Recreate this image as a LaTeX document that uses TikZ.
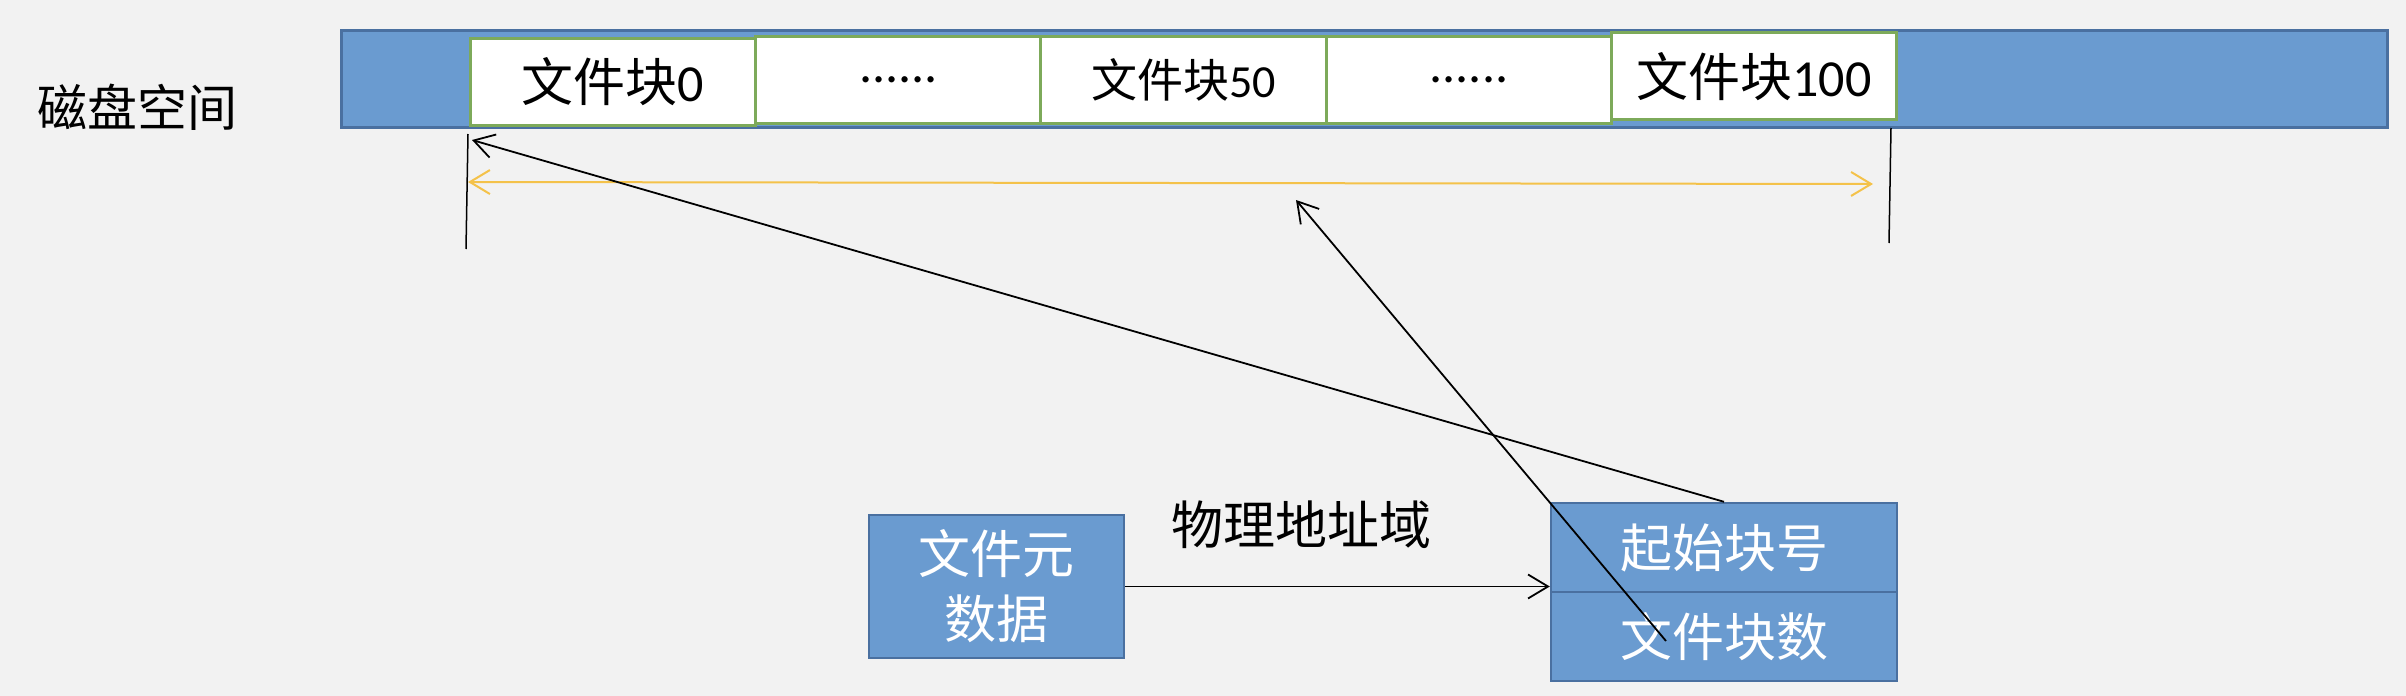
\documentclass[tikz,border=0pt]{standalone}
\usepackage{fontspec}
\setmainfont{Carlito}
\newfontfamily\cjk{Noto Sans CJK SC}
\usetikzlibrary{arrows.meta}
\definecolor{bg}{HTML}{F2F2F2}
\definecolor{barfill}{HTML}{6A9BD0}
\definecolor{barline}{HTML}{4A70A0}
\definecolor{grn}{HTML}{7DAA5A}
\definecolor{org}{HTML}{F4C24A}
\tikzset{
  bigtxt/.style={font=\fontsize{26pt}{32.5pt}\selectfont},
  diskbar/.style={draw=barline, fill=barfill, line width=1.5pt, minimum width=1023pt, minimum height=48.5pt, inner sep=0pt},
  blk/.style={draw=grn, fill=white, line width=1.5pt, minimum width=142.75pt, minimum height=43.5pt, inner sep=0pt, bigtxt},
  bluebox/.style={draw=barline, fill=barfill, line width=1.2pt, text=white, inner sep=0pt, align=center, bigtxt},
  barb/.style={Straight Barb[length=10pt,width=12pt]},
  arr/.style={-{Straight Barb[length=10pt,width=12pt]}, line width=0.9pt},
  tick/.style={line width=0.75pt},
}
\begin{document}
\begin{tikzpicture}[x=0.5pt,y=-0.5pt]
\useasboundingbox[fill=bg] (0,0) rectangle (2406,696);
% disk bar
\node[diskbar] (bar) at (1364,79.4) {};
\node[blk] (b0) at (613,81.5) {{\cjk 文件块}0};
\node[blk] (b1) at (898.5,79.5) {......};
\node[blk, font=\fontsize{23pt}{28pt}\selectfont] (b2) at (1183.5,79.5) {{\cjk 文件块}50};
\node[blk] (b3) at (1469,79.5) {......};
\node[blk] (b4) at (1754,76.4) {{\cjk 文件块}100};
\node[bigtxt, font=\cjk\fontsize{25pt}{30pt}\selectfont] (disk) at (138,107) {磁盘空间};
% ticks and range
\coordinate (lt1) at (468,134);
\coordinate (lt2) at (466,249);
\coordinate (rt1) at (1891,128);
\coordinate (rt2) at (1889,243);
\draw[tick] (lt1) -- (lt2);
\draw[tick] (rt1) -- (rt2);
\coordinate (oL) at (468,182);
\coordinate (oR) at (1873,184);
\draw[org, line width=1pt, {Straight Barb[length=10pt,width=12pt]}-{Straight Barb[length=10pt,width=12pt]}] (oL) -- (oR);
% lower boxes
\node[bluebox, minimum width=127.5pt, minimum height=71.5pt, font=\cjk\fontsize{26pt}{32.5pt}\selectfont] (meta) at (996.5,586.5) {文件元\\数据};
\node[bluebox, minimum width=173pt, minimum height=44.5pt, font=\cjk\fontsize{26pt}{32.5pt}\selectfont] (start) at (1724,547.5) {起始块号};
\node[bluebox, minimum width=173pt, minimum height=44.5pt, font=\cjk\fontsize{26pt}{32.5pt}\selectfont] (count) at (1724,636.5) {文件块数};
\node[font=\cjk\fontsize{26pt}{32.5pt}\selectfont] (phys) at (1301,525) {物理地址域};
% connectors
\draw[arr] (meta.east) -- (start.west |- meta.east);
\coordinate (t1) at (472,140);
\draw[arr] (start.north) -- (t1);
\coordinate (s2) at (1666,641);
\coordinate (t2) at (1296,200);
\draw[arr] (s2) -- (t2);
\end{tikzpicture}
\end{document}
